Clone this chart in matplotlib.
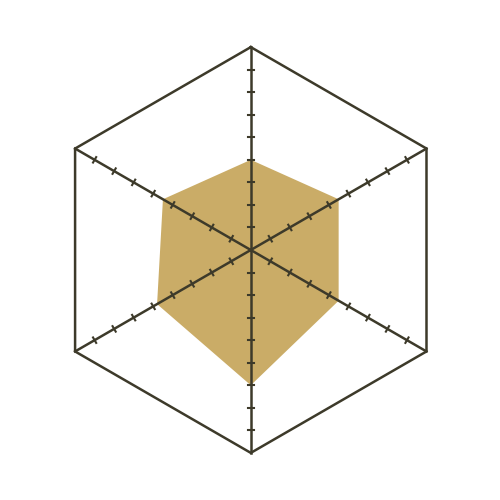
import numpy as np
import matplotlib
matplotlib.use("Agg")
import matplotlib.pyplot as plt

# data
axes_names = ["A", "B", "C", "D", "E", "F"]          # clockwise from top
values = [4.0, 4.5, 4.5, 6.0, 4.8, 4.5]
max_value = 9
tick_values = [1, 2, 3, 4, 5, 6, 7, 8]

line_color = "#3d3a2a"
fill_color = "#caac67"

n = len(axes_names)
angles = np.arange(n) * 2 * np.pi / n  # 0 = up, clockwise


def to_xy(r, a):
    return r * np.sin(a), r * np.cos(a)


fig = plt.figure(figsize=(5, 5), dpi=100)
ax = fig.add_axes([0, 0, 1, 1])
ax.set_xlim(-11.12, 11.05)
ax.set_ylim(-11.09, 11.09)
ax.set_aspect("equal")
ax.axis("off")

# filled data polygon
vx, vy = to_xy(np.array(values), angles)
ax.fill(vx, vy, color=fill_color, lw=0, zorder=1)

# outer hexagon
ox, oy = to_xy(np.full(n + 1, max_value), np.append(angles, angles[0]))
ax.plot(ox, oy, color=line_color, lw=1.8, zorder=3, solid_joinstyle="miter")

# spokes and ticks
half = 0.14
for a in angles:
    x1, y1 = to_xy(max_value, a)
    ax.plot([0, x1], [0, y1], color=line_color, lw=1.8, zorder=3)
    px, py = np.cos(a), -np.sin(a)  # perpendicular
    for t in tick_values:
        cx, cy = to_xy(t, a)
        ax.plot([cx - half * px, cx + half * px], [cy - half * py, cy + half * py],
                color=line_color, lw=1.5, zorder=3)

fig.savefig("out.png", dpi=100, facecolor="white")
